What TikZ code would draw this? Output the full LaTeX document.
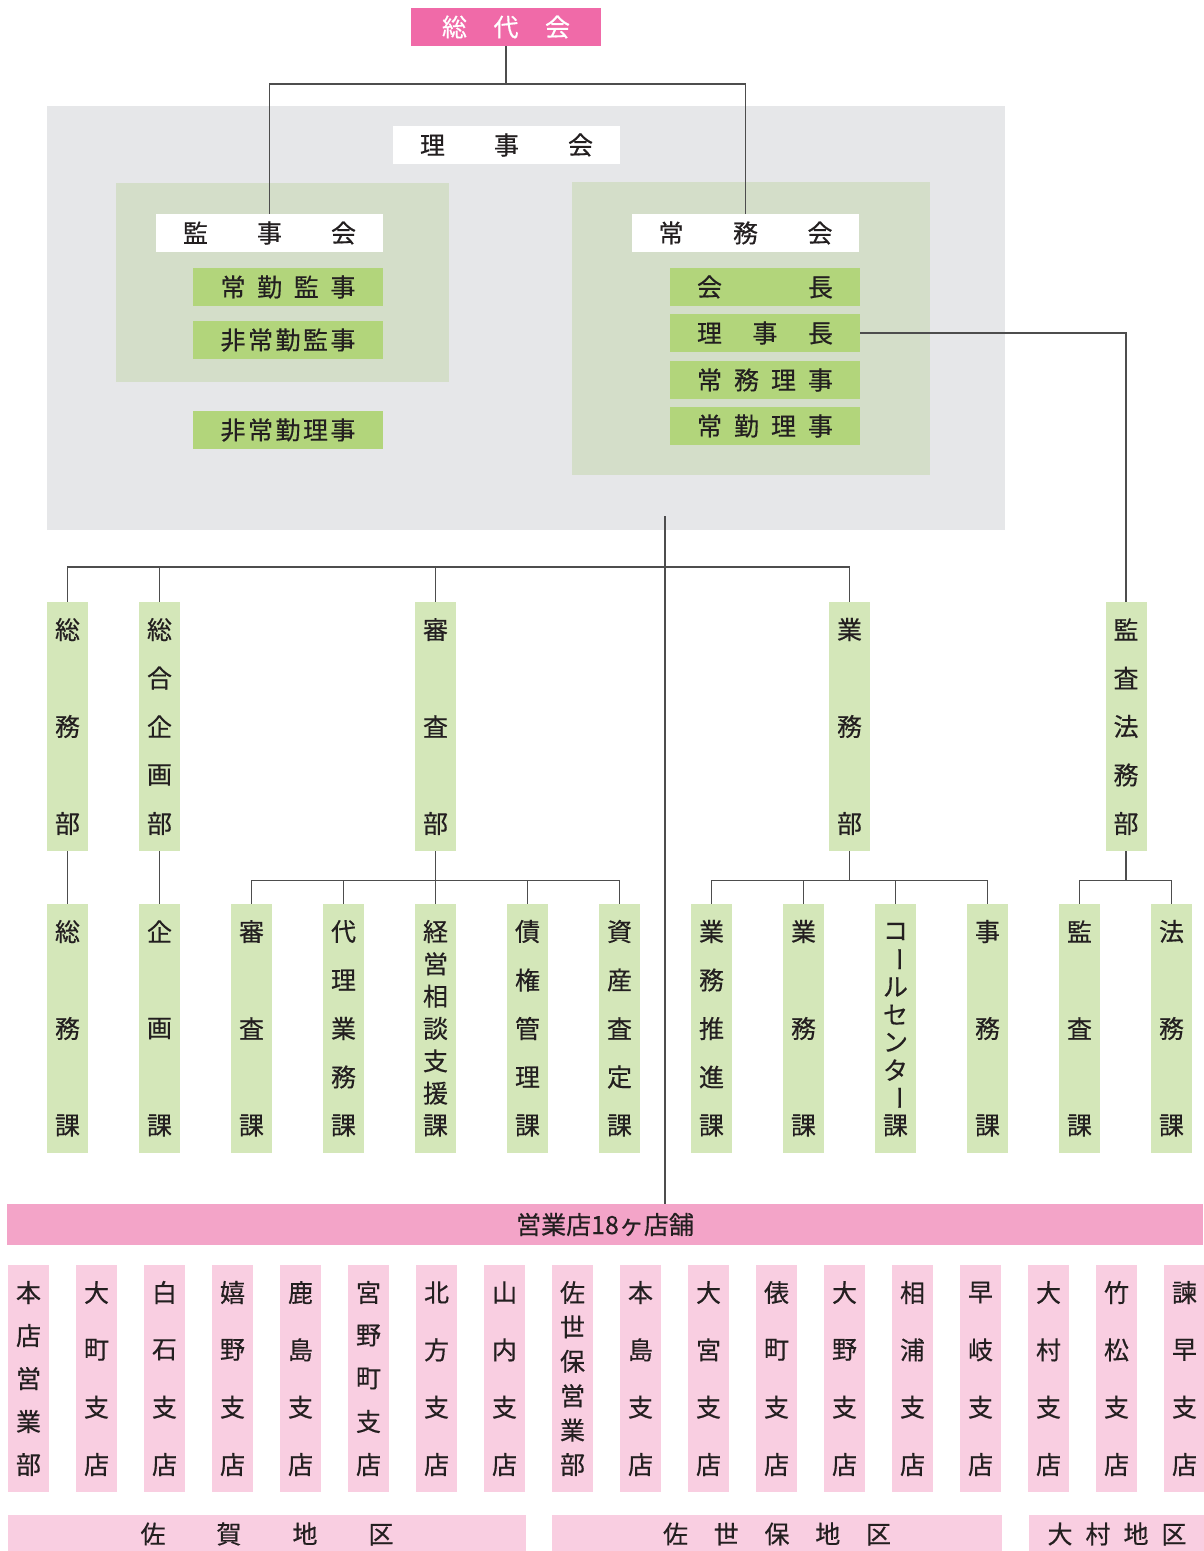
\documentclass[tikz,border=0pt]{standalone}
\usepackage{fontspec}
\setmainfont[FakeBold=0.4]{Noto Sans CJK JP}
\usepackage{graphicx}
\usetikzlibrary{positioning}

\definecolor{sodaipink}{HTML}{F06AA8}
\definecolor{panelgrey}{HTML}{E6E7E9}
\definecolor{groupgreen}{HTML}{D4DEC9}
\definecolor{boxgreen}{HTML}{B2D57B}
\definecolor{colgreen}{HTML}{D4E7B9}
\definecolor{barpink}{HTML}{F3A4C8}
\definecolor{storepink}{HTML}{F9CEE1}
\definecolor{inkdark}{HTML}{231F20}
\definecolor{linegrey}{HTML}{4D4D4D}

\makeatletter
% characters spread over a fixed width / height
\newcommand{\hspread}[2]{\hbox to #1{\let\hgap\relax\@tfor\hc:=#2\do{\hgap\let\hgap\hfill\hc}}}
\def\vloop{\@tfor\vc:=}
\newcommand{\vtxt}[2]{\vbox to #1{\offinterlineskip\let\vgap\relax
  \expandafter\vloop#2\do{\vgap\let\vgap\vfill
    \hbox to 41pt{\hss\vbox to 25pt{\vss\hbox{\vc}\vss}\hss}}}}
\makeatother
\newcommand{\choon}{\rotatebox[origin=c]{-90}{ー}}

\begin{document}
\begin{tikzpicture}[x=1pt,y=-1pt,
    every node/.style={inner sep=0pt,text=inkdark,font=\fontsize{25}{30}\selectfont},
    whitebox/.style={fill=white,minimum width=227pt,minimum height=38pt},
    greenbox/.style={fill=boxgreen,minimum width=190pt,minimum height=38pt},
    deptcol/.style={fill=colgreen,minimum width=41pt,minimum height=249pt},
    storecol/.style={fill=storepink,minimum width=41pt,minimum height=227pt},
    areabar/.style={fill=storepink,minimum height=38pt},
    link/.style={draw=linegrey,line width=1.2pt}]
  \useasboundingbox (0,0) rectangle (1203,1551);
  % panels
  \fill[panelgrey] (47,106) rectangle (1005,530);
  \fill[groupgreen] (116,183) rectangle (449,382);
  \fill[groupgreen] (572,182) rectangle (930,475);

  % board
  \node[fill=sodaipink,text=white,minimum width=190pt,minimum height=38pt] (sodai) at (506,27) {\hspread{128pt}{総代会}};
  \node[whitebox] (riji) at (506.5,145) {\hspread{173pt}{理事会}};
  \node[whitebox] (kanjikai) at (269.5,233) {\hspread{173pt}{監事会}};
  \node[greenbox] (jokinkanji) at (288,287) {\hspread{135pt}{常勤監事}};
  \node[greenbox] (hijokinkanji) at (288,340) {\hspread{135pt}{非常勤監事}};
  \node[greenbox] (hijokinriji) at (288,430) {\hspread{135pt}{非常勤理事}};
  \node[whitebox] (jomukai) at (745.5,233) {\hspread{174pt}{常務会}};
  \node[greenbox] (kaicho) at (765,287) {\hspread{136pt}{会長}};
  \node[greenbox] (rijicho) at (765,333) {\hspread{136pt}{理事長}};
  \node[greenbox] (jomuriji) at (765,380) {\hspread{136pt}{常務理事}};
  \node[greenbox] (jokinriji) at (765,426) {\hspread{136pt}{常勤理事}};

  % departments
  \foreach \n/\x/\t in {somubu/67.5/総務部,kikakubu/159.5/総合企画部,shinsabu/435.5/審査部,
      gyomubu/849.5/業務部,kansabu/1126/監査法務部}
    \node[deptcol] (\n) at (\x,726.5) {\vtxt{219pt}{\t}};
  \foreach \n/\t [count=\i from 0] in {somuka/総務課,kikakuka/企画課,shinsaka/審査課,dairika/代理業務課,
      keieika/経営相談支援課,saikenka/債権管理課,shisanka/資産査定課,suishinka/業務推進課,gyomuka/業務課,
      callka/コ\choon ルセンタ\choon 課,jimuka/事務課,kansaka/監査課,homuka/法務課}
    \node[deptcol] (\n) at ({67.5+92*\i},1028.5) {\vtxt{219pt}{\t}};

  % branches
  \node[fill=barpink,minimum width=1196pt,minimum height=41pt] (eigyo) at (605,1224.5) {営業店18ヶ店舗};
  \foreach \n/\t [count=\i from 0] in {honten/本店営業部,omachi/大町支店,shiroishi/白石支店,ureshino/嬉野支店,
      kashima/鹿島支店,miyanomachi/宮野町支店,kitagata/北方支店,yamauchi/山内支店,sasebo/佐世保営業部,
      honjima/本島支店,omiya/大宮支店,tawaramachi/俵町支店,ono/大野支店,ainoura/相浦支店,haiki/早岐支店,
      omura/大村支店,takematsu/竹松支店,isahaya/諫早支店}
    \node[storecol] (\n) at ({28.5+68*\i},1378.5) {\vtxt{197pt}{\t}};
  \node[areabar,minimum width=518pt] (sagaarea) at (267,1534) {\hspread{253pt}{佐賀地区}};
  \node[areabar,minimum width=450pt] (saseboarea) at (777,1534) {\hspread{228pt}{佐世保地区}};
  \node[areabar,minimum width=176pt] (omuraarea) at (1117,1534) {\hspread{139pt}{大村地区}};

  % connectors
  \coordinate (bus1) at (506,84);
  \draw[link] (sodai.south) -- (bus1);
  \draw[link] (kanjikai.north) |- (bus1) -| (jomukai.north);
  \draw[link] (rijicho.east) -| (kansabu.north);
  \coordinate (trunk) at (665,516);
  \draw[link] (trunk) -- (trunk |- eigyo.north);
  \coordinate (bus2) at (665,567);
  \draw[link] (somubu.north) |- (bus2) -| (gyomubu.north);
  \foreach \n in {kikakubu,shinsabu}
    \draw[link] (\n.north) -- (\n.north |- bus2);
  \draw[link] (somubu.south) -- (somuka.north);
  \draw[link] (kikakubu.south) -- (kikakuka.north);
  \foreach \c in {shinsaka,dairika,keieika,saikenka,shisanka}
    \draw[link] (shinsabu.south) -- ++(0,29) -| (\c.north);
  \foreach \c in {suishinka,gyomuka,callka,jimuka}
    \draw[link] (gyomubu.south) -- ++(0,29) -| (\c.north);
  \foreach \c in {kansaka,homuka}
    \draw[link] (kansabu.south) -- ++(0,29) -| (\c.north);
\end{tikzpicture}
\end{document}
